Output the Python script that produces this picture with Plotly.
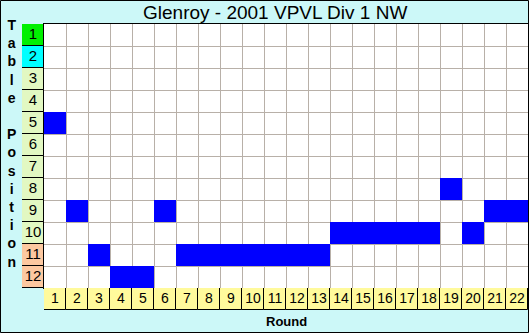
import plotly.graph_objects as go

# ---- data ----
rounds = list(range(1, 23))
positions_by_round = [5, 9, 11, 12, 12, 9, 11, 11, 11, 11, 11, 11, 11,
                      10, 10, 10, 10, 10, 8, 10, 9, 9]
table_positions = list(range(1, 13))
position_colors = ["#00f000", "#00ffff"] + ["#e2f8c2"] * 8 + ["#fcc8a0"] * 2
round_labels = [str(r) for r in rounds]
position_labels = [str(p) for p in table_positions]
title_text = "Glenroy - 2001 VPVL Div 1 NW"

BG = "#ccf8f8"
W, H = 529, 333
ml, mr, mt, mb = 22, 1, 24, 23
pw, ph = W - ml - mr, H - mt - mb
cell = 22

fig = go.Figure()

# blue cells: team position for each round
fig.add_trace(go.Bar(
    x=rounds, y=[1] * len(rounds), base=[p - 0.5 for p in positions_by_round],
    width=1, marker=dict(color="#0000ff", line=dict(width=0)),
    xaxis="x", yaxis="y", hoverinfo="skip", showlegend=False))

# position label column
fig.add_trace(go.Bar(
    x=[0.5] * 12, y=[1] * 12, base=[p - 0.5 for p in table_positions],
    width=1, marker=dict(color=position_colors, line=dict(color="black", width=1)),
    xaxis="x2", yaxis="y", hoverinfo="skip", showlegend=False))
fig.add_trace(go.Scatter(
    x=[0.5] * 12, y=table_positions, text=position_labels, mode="text",
    textfont=dict(family="Liberation Sans", size=15, color="black"),
    xaxis="x2", yaxis="y", hoverinfo="skip", showlegend=False))

# round label row
fig.add_trace(go.Bar(
    x=rounds, y=[1] * 22, base=[0] * 22, width=1,
    marker=dict(color="#fffa9c", line=dict(color="black", width=1)),
    xaxis="x", yaxis="y3", hoverinfo="skip", showlegend=False))
fig.add_trace(go.Scatter(
    x=rounds, y=[0.5] * 22, text=round_labels, mode="text",
    textfont=dict(family="Liberation Sans", size=14, color="black"),
    xaxis="x", yaxis="y3", hoverinfo="skip", showlegend=False))

xsplit = cell / pw
ysplit = cell / ph

fig.update_layout(
    width=W, height=H,
    margin=dict(l=ml, r=mr, t=mt, b=mb, pad=0),
    paper_bgcolor=BG, plot_bgcolor="white",
    bargap=0,
    xaxis=dict(domain=[xsplit, 1], range=[0.5, 22.5], showgrid=True,
               gridcolor="#b8b0a8", gridwidth=1, tick0=0.5, dtick=1,
               showticklabels=False, ticks="", zeroline=False,
               showline=True, mirror=True, linecolor="black", linewidth=1,
               anchor="y"),
    yaxis=dict(domain=[ysplit, 1], range=[12.5, 0.5], showgrid=True,
               gridcolor="#b8b0a8", gridwidth=1, tick0=0.5, dtick=1,
               showticklabels=False, ticks="", zeroline=False,
               showline=True, mirror=True, linecolor="black", linewidth=1,
               anchor="x"),
    xaxis2=dict(domain=[0, xsplit], range=[0, 1], showgrid=False,
                showticklabels=False, zeroline=False, anchor="y"),
    yaxis3=dict(domain=[0, ysplit], range=[1, 0], showgrid=False,
                showticklabels=False, zeroline=False, anchor="x"),
    font=dict(family="Liberation Sans"),
    showlegend=False,
)

fig.add_annotation(text=title_text, xref="paper", yref="paper",
                   x=(275 - ml) / pw, y=(H - mb - 12) / ph,
                   showarrow=False, xanchor="center", yanchor="middle",
                   font=dict(family="Liberation Sans", size=19, color="black"))
fig.add_annotation(text="<b>Round</b>", xref="paper", yref="paper",
                   x=(286 - ml) / pw, y=(H - mb - 321) / ph,
                   showarrow=False, xanchor="center", yanchor="middle",
                   font=dict(family="Liberation Sans", size=13, color="black"),
                   )
letters = list("Table") + [""] + list("Position")
fig.add_annotation(text="<br>".join("<b>%s</b>" % c if c else "" for c in letters),
                   xref="paper", yref="paper",
                   x=(11 - ml) / pw, y=(H - mb - 143) / ph,
                   showarrow=False, xanchor="center", yanchor="middle",
                   font=dict(family="Liberation Sans", size=14, color="black"))

# outer border
fig.add_shape(type="rect", xref="paper", yref="paper",
              x0=(0.5 - ml) / pw, x1=(W - 0.5 - ml) / pw,
              y0=(H - mb - (H - 0.5)) / ph, y1=(H - mb - 0.5) / ph,
              line=dict(color="black", width=1), fillcolor="rgba(0,0,0,0)",
              layer="above")

fig.write_html("out.html")
